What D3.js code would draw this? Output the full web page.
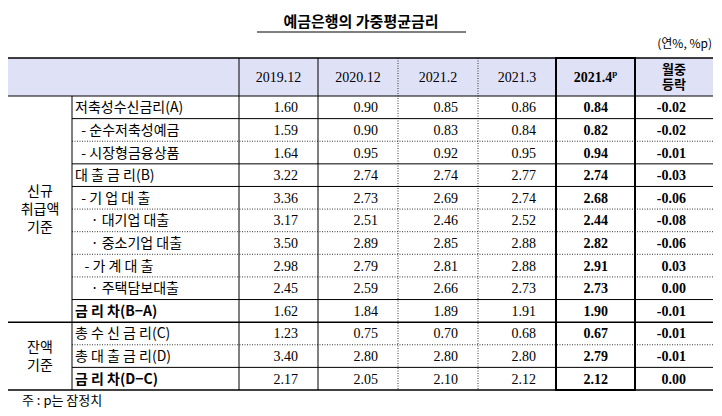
<!DOCTYPE html><html><head><meta charset="utf-8"><script src="https://cdn.jsdelivr.net/npm/d3@7"></script>
<style>body{margin:0;background:#fff}</style></head><body><svg id="c" width="722" height="416"></svg>
<script>
const columns=["2019.12","2020.12","2021.2","2021.3","2021.4"];
const rowLabels=["저축성수신금리(A)","  - 순수저축성예금","  - 시장형금융상품","대 출 금 리(B)","  - 기 업 대 출","     · 대기업 대출","     · 중소기업 대출","   - 가 계 대 출","     · 주택담보대출","금 리 차(B−A)","총 수 신 금 리(C)","총 대 출 금 리(D)","금 리 차(D−C)"];
const v2019=[1.60,1.59,1.64,3.22,3.36,3.17,3.50,2.98,2.45,1.62,1.23,3.40,2.17];
const v2020=[0.90,0.90,0.95,2.74,2.73,2.51,2.89,2.79,2.59,1.84,0.75,2.80,2.05];
const v2021_2=[0.85,0.83,0.92,2.74,2.69,2.46,2.85,2.81,2.66,1.89,0.70,2.80,2.10];
const v2021_3=[0.86,0.84,0.95,2.77,2.74,2.52,2.88,2.88,2.73,1.91,0.68,2.80,2.12];
const v2021_4=[0.84,0.82,0.94,2.74,2.68,2.44,2.82,2.91,2.73,1.90,0.67,2.79,2.12];
const change=[-0.02,-0.02,-0.01,-0.03,-0.06,-0.08,-0.06,0.03,0.00,-0.01,-0.01,-0.01,0.00];
const groups=[{name:["신규","취급액","기준"],from:0,to:10},{name:["잔액","기준"],from:10,to:13}];
const boldRows=[9,12];
const dottedAfter=[1,4,5,6,7,10];
const series=[v2019,v2020,v2021_2,v2021_3,v2021_4,change];

const svg=d3.select("#c");
const xEdges=[8,72,239,318,398,478,556,635,713];
const y=d3.scaleLinear().domain([0,13]).range([96,390]);
const tableTop=58;
const serif="'Liberation Serif','DejaVu Serif',serif", kr="'Noto Sans CJK KR',sans-serif";
svg.append("text").attr("x",361).attr("y",27).attr("text-anchor","middle").attr("font-family",kr).attr("font-size",15).attr("font-weight","bold").text("예금은행의 가중평균금리");
svg.append("line").attr("x1",257).attr("x2",466).attr("y1",32).attr("y2",32).attr("stroke","#000");
svg.append("text").attr("x",712).attr("y",48).attr("text-anchor","end").attr("font-family",kr).attr("font-size",12).text("(연%, %p)");
svg.append("rect").attr("x",8).attr("y",tableTop).attr("width",705).attr("height",y(0)-tableTop).attr("fill","#dfe1f6");
columns.forEach((c,i)=>{const cx=(xEdges[i+2]+xEdges[i+3])/2;
 const t=svg.append("text").attr("x",cx).attr("y",(tableTop+y(0))/2+5).attr("text-anchor","middle").attr("font-family",serif).attr("font-size",14);
 if(i===4){t.attr("font-weight","bold").text("2021.4");t.append("tspan").attr("font-size",9).attr("dy",-6).text("p");}else t.text(c);});
const cxc=(xEdges[7]+xEdges[8])/2;
["월중","등락"].forEach((s,k)=>svg.append("text").attr("x",cxc).attr("y",tableTop+16+k*15).attr("text-anchor","middle").attr("font-family",kr).attr("font-weight","bold").attr("font-size",13).text(s));
rowLabels.forEach((l,r)=>{const cy=(y(r)+y(r+1))/2+5;const b=boldRows.includes(r);
 svg.append("text").attr("x",xEdges[1]+3).attr("y",cy).attr("font-family",kr).attr("font-size",14).attr("font-weight",b?"bold":"normal").attr("xml:space","preserve").style("white-space","pre").text(l);
 series.forEach((s,i)=>{const val=s[r];const txt=val.toFixed(2);
  svg.append("text").attr("x",i<5?xEdges[i+3]-(i===4?27:20):(xEdges[7]+xEdges[8])/2+12).attr("y",cy).attr("text-anchor","end").attr("font-family",serif).attr("font-size",14).attr("font-weight",i>=4?"bold":"normal").text(txt);});
});
groups.forEach(g=>{const cy=(y(g.from)+y(g.to))/2;const n=g.name.length;
 g.name.forEach((s,k)=>svg.append("text").attr("x",40).attr("y",cy+5+(k-(n-1)/2)*18).attr("text-anchor","middle").attr("font-family",kr).attr("font-size",14).text(s));});
for(let r=1;r<13;r++){const dot=dottedAfter.includes(r-1)||r===11;const sec=r===10;
 svg.append("line").attr("x1",sec?8:xEdges[1]).attr("x2",713).attr("y1",y(r)).attr("y2",y(r)).attr("stroke","#000").attr("stroke-width",sec?1.5:(dot?0.8:1)).attr("stroke-dasharray",dot?"1,1.5":null);}
[tableTop,y(0),y(13)].forEach((yy,i)=>svg.append("line").attr("x1",8).attr("x2",713).attr("y1",yy).attr("y2",yy).attr("stroke","#000").attr("stroke-width",i===1?1:1.5));
[[1,false],[2,false],[3,false],[4,true],[5,true]].forEach(([i,dot])=>svg.append("line").attr("x1",xEdges[i]).attr("x2",xEdges[i]).attr("y1",i===1?y(0):tableTop).attr("y2",y(13)).attr("stroke","#000").attr("stroke-width",dot?0.8:1).attr("stroke-dasharray",dot?"1,1.5":null));
svg.append("rect").attr("x",xEdges[6]).attr("y",tableTop).attr("width",xEdges[7]-xEdges[6]).attr("height",y(13)-tableTop).attr("fill","none").attr("stroke","#000").attr("stroke-width",2);
svg.append("text").attr("x",22).attr("y",405).attr("font-family",kr).attr("font-size",13).text("주 : p는 잠정치");
</script></body></html>
